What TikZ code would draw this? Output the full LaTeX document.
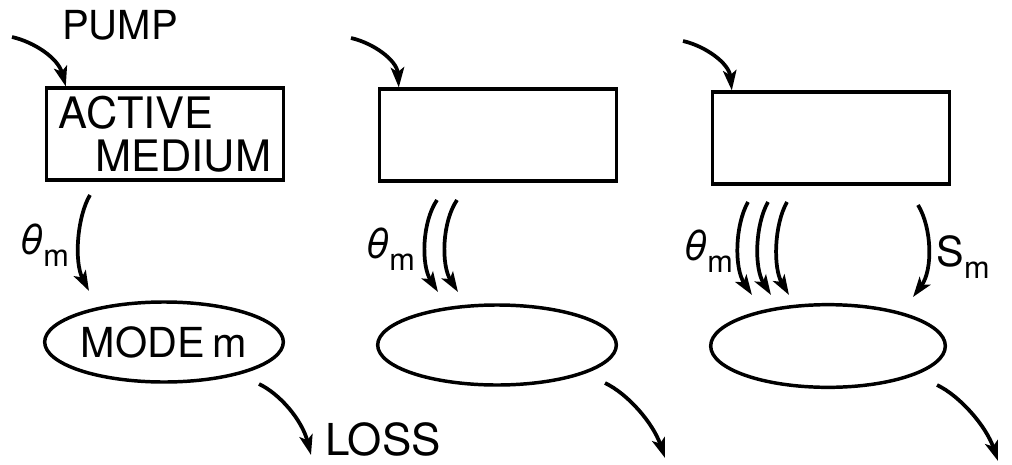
\documentclass[tikz,border=0pt]{standalone}
\usepackage{fontspec}
\setmainfont{TeX Gyre Heros}
\usetikzlibrary{arrows.meta,shapes.geometric}
\begin{document}
\begin{tikzpicture}[x=0.75pt,y=-0.75pt,
  box/.style={draw,line width=2.3pt,minimum width=178pt,minimum height=69pt,inner sep=0pt},
  oval/.style={draw,ellipse,line width=2.6pt,minimum width=179pt,minimum height=60pt,inner sep=0pt},
  flow/.style={line width=2.8pt,-{Stealth[length=15pt,width=10pt,inset=3.5pt]}},
  lbl/.style={font=\fontsize{33}{35}\selectfont,inner sep=0pt}
]
\useasboundingbox (0,0) rectangle (1012,464);
% boxes
\node[box,align=left,font=\fontsize{32.5}{32}\selectfont] (b1) at (165,134) {ACTIVE\\\hspace*{0.85em}MEDIUM};
\node[box] (b2) at (498,135) {};
\node[box] (b3) at (831,138) {};
% ellipses
\node[oval,font=\fontsize{31}{33}\selectfont] (e1) at (164,342) {MODE\hspace{0.2em}m};
\node[oval] (e2) at (497,345) {};
\node[oval,minimum width=176pt,minimum height=62pt] (e3) at (828,346) {};
% labels
\node[font=\fontsize{30}{32}\selectfont,inner sep=0pt] (pump) at (120,25) {PUMP};
\node[lbl] (loss) at (383,439) {LOSS};
\node[inner sep=0pt] (t1) at (44,245) {{\fontsize{31}{31}\selectfont\itshape θ}\raisebox{-9pt}{\fontsize{23}{23}\selectfont m}};
\node[inner sep=0pt] (t2) at (390,249) {{\fontsize{31}{31}\selectfont\itshape θ}\raisebox{-9pt}{\fontsize{23}{23}\selectfont m}};
\node[inner sep=0pt] (t3) at (708,251) {{\fontsize{31}{31}\selectfont\itshape θ}\raisebox{-9pt}{\fontsize{23}{23}\selectfont m}};
\node[inner sep=0pt] (s3) at (963,257) {{\fontsize{31}{31}\selectfont S}\raisebox{-9pt}{\fontsize{23}{23}\selectfont m}};
% pump arrows
\coordinate (p1) at (12,37);
\coordinate (p2) at (351,38);
\coordinate (p3) at (683,41);
\draw[flow] (p1) .. controls (34,42) and (58,58) .. ([xshift=15.75pt]b1.north west);
\draw[flow] (p2) .. controls (373,43) and (397,60) .. ([xshift=15.75pt]b2.north west);
\draw[flow] (p3) .. controls (705,46) and (729,63) .. ([xshift=15.75pt]b3.north west);
% theta arrows
\coordinate (a1s) at (90,195); \coordinate (a1e) at (89,291);
\draw[flow] (a1s) .. controls (77,217) and (74,262) .. (a1e);
\coordinate (a2s) at (437,200); \coordinate (a2e) at (438,292);
\coordinate (a3s) at (457,200); \coordinate (a3e) at (458,292);
\draw[flow] (a2s) .. controls (422,222) and (421,265) .. (a2e);
\draw[flow] (a3s) .. controls (442,222) and (441,265) .. (a3e);
\coordinate (a4s) at (748,202); \coordinate (a4e) at (752,295);
\coordinate (a5s) at (768,202); \coordinate (a5e) at (771,295);
\coordinate (a6s) at (787,202); \coordinate (a6e) at (789,295);
\draw[flow] (a4s) .. controls (735,225) and (734,268) .. (a4e);
\draw[flow] (a5s) .. controls (755,225) and (754,268) .. (a5e);
\draw[flow] (a6s) .. controls (774,225) and (773,268) .. (a6e);
\coordinate (a7s) at (918,205); \coordinate (a7e) at (913,297);
\draw[flow] (a7s) .. controls (932,228) and (933,270) .. (a7e);
% loss arrows
\coordinate (l1s) at (259,384); \coordinate (l1e) at (311,455);
\coordinate (l2s) at (605,383); \coordinate (l2e) at (665,458);
\coordinate (l3s) at (937,385); \coordinate (l3e) at (998,461);
\draw[flow] (l1s) .. controls (280,394) and (302,420) .. (l1e);
\draw[flow] (l2s) .. controls (628,394) and (653,423) .. (l2e);
\draw[flow] (l3s) .. controls (960,396) and (986,426) .. (l3e);
\end{tikzpicture}
\end{document}
